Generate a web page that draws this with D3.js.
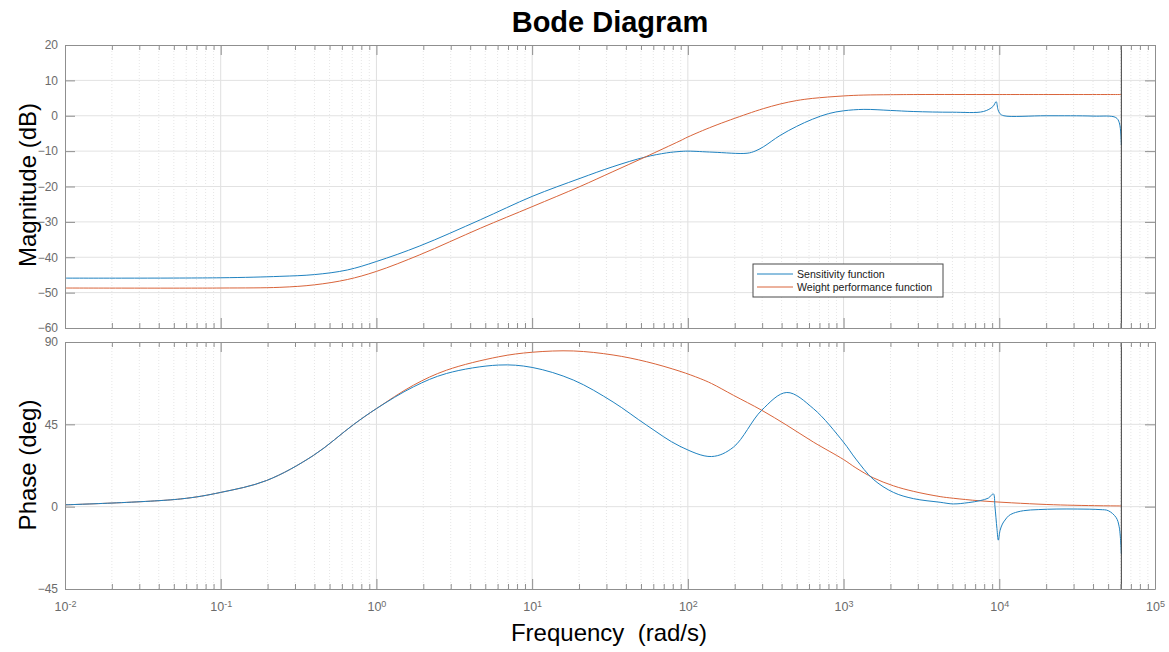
<!DOCTYPE html>
<html>
<head>
<meta charset="utf-8">
<script src="https://cdn.jsdelivr.net/npm/d3@7"></script>
<style>
  body { margin: 0; background: #fff; }
  svg { display: block; font-family: "Liberation Sans", Arial, Helvetica, sans-serif; }
</style>
</head>
<body>
<svg id="chart" width="1169" height="652"></svg>
<script>
// ---- Sensitivity function S(jw) ----
const sensMagFreq = [0.01, 0.1, 0.24, 0.4, 0.65, 1, 1.9, 4.65, 10, 20.3, 33, 53, 73, 89, 100, 145, 240, 270, 305, 390, 500, 630, 800, 1000, 1350, 2000, 2800, 5000, 7900, 9100, 9550, 9800, 10100, 10700, 20000, 40000, 56000, 59000, 60800];
const sensMagDb   = [-45.9, -45.8, -45.4, -44.9, -43.6, -41.2, -36.8, -29.4, -22.8, -17.7, -14.4, -11.7, -10.5, -10.1, -10.0, -10.3, -10.6, -10.0, -8.8, -5.6, -3.0, -1.0, 0.6, 1.4, 1.8, 1.5, 1.2, 1.0, 1.2, 2.6, 4.0, 1.8, 0.6, 0.0, 0.0, -0.1, -0.5, -2.0, -8.3];

const sensPhFreq = [0.01, 0.055, 0.1, 0.197, 0.394, 0.711, 1, 1.73, 2.82, 6.07, 10, 18.4, 33.1, 54.4, 89, 142, 196, 298, 432, 640, 998, 1200, 1549, 2090, 2805, 4169, 5070, 6310, 7530, 8511, 9160, 9380, 9660, 9860, 10116, 10470, 10890, 11480, 12300, 14290, 17780, 23440, 31620, 44360, 50120, 56230, 58880, 60800];
const sensPhDeg  = [1.0, 4.2, 7.8, 14.3, 28.0, 44.8, 53.6, 65.5, 72.8, 77.4, 76.1, 69.2, 57.2, 44.5, 33.0, 27.4, 32.5, 52.7, 62.4, 53.6, 35.3, 26.0, 15.0, 7.8, 4.4, 2.4, 1.5, 2.2, 3.3, 4.7, 7.0, 0.0, -12.0, -18.3, -13.0, -9.5, -7.3, -5.0, -3.6, -2.2, -1.6, -1.3, -1.3, -1.6, -2.2, -5.9, -11.0, -26.0];

// ---- Weight performance function Wp(jw) ----
const wpMagFreq = [0.01, 0.1, 0.24, 0.4, 0.65, 1, 1.9, 4.65, 10, 20.3, 33, 53, 89, 100, 145, 240, 305, 390, 500, 630, 1000, 1350, 2000, 3000, 10000, 60800];
const wpMagDb   = [-48.7, -48.7, -48.5, -47.8, -46.3, -44.0, -39.3, -31.8, -25.7, -20.0, -15.8, -11.7, -7.1, -6.0, -3.0, 0.5, 2.0, 3.3, 4.3, 4.9, 5.6, 5.85, 5.95, 6.0, 6.0, 6.0];

const wpPhFreq = [0.01, 0.055, 0.1, 0.197, 0.394, 0.711, 1, 1.73, 2.82, 6.07, 10, 18.4, 33.1, 54.4, 89, 120, 142, 196, 298, 432, 640, 998, 1200, 1549, 2090, 2805, 4169, 5070, 7530, 20000, 44360, 60800];
const wpPhDeg  = [1.0, 4.2, 7.8, 14.3, 28.0, 44.8, 53.6, 66.4, 74.6, 81.9, 84.4, 85.1, 82.9, 79.2, 74.0, 70.0, 67.3, 60.9, 52.7, 44.5, 35.3, 25.8, 21.2, 15.8, 11.4, 8.4, 5.5, 4.6, 3.2, 1.2, 0.5, 0.4];

// ---- Axes ticks and labels ----
const magTicks = [20, 10, 0, -10, -20, -30, -40, -50, -60];
const phaseTicks = [90, 45, 0, -45];
const decadeExps = [-2, -1, 0, 1, 2, 3, 4, 5];
const nyquistFreq = 60800;
const seriesNames = ["Sensitivity function", "Weight performance function"];
const seriesColors = ["#1f82c0", "#d9643a"];

const svg = d3.select("#chart");
const left = 65, right = 1155;
const magPanel = { top: 45, bottom: 328 };
const phPanel = { top: 342, bottom: 589 };

const x = d3.scaleLog().domain([1e-2, 1e5]).range([left, right]);
const yMag = d3.scaleLinear().domain([-60, 20]).range([magPanel.bottom, magPanel.top]);
const yPh = d3.scaleLinear().domain([-45, 90]).range([phPanel.bottom, phPanel.top]);

const majorFreqs = decadeExps.map(e => Math.pow(10, e));
const minorFreqs = [];
decadeExps.slice(0, -1).forEach(e => {
  for (let m = 2; m <= 9; m++) minorFreqs.push(m * Math.pow(10, e));
});

const axisColor = "#8f8f8f";
const labelColor = "#6b6b6b";

function drawGrid(panel, y, ticks, id) {
  const grid = svg.append("g");
  grid.selectAll(".vminor").data(minorFreqs).join("line")
    .attr("x1", d => x(d)).attr("x2", d => x(d))
    .attr("y1", panel.top).attr("y2", panel.bottom)
    .attr("stroke", "#e6e6e6").attr("stroke-width", 1)
    .attr("stroke-dasharray", "1,2");
  grid.selectAll(".vmajor").data(majorFreqs.slice(1, -1)).join("line")
    .attr("x1", d => x(d)).attr("x2", d => x(d))
    .attr("y1", panel.top).attr("y2", panel.bottom)
    .attr("stroke", "#dfdfdf").attr("stroke-width", 1);
  grid.selectAll(".hmajor").data(ticks.filter(t => t !== y.domain()[0] && t !== y.domain()[1])).join("line")
    .attr("x1", left).attr("x2", right)
    .attr("y1", d => y(d)).attr("y2", d => y(d))
    .attr("stroke", "#e2e2e2").attr("stroke-width", 1);

  svg.append("clipPath").attr("id", id).append("rect")
    .attr("x", left).attr("y", panel.top)
    .attr("width", right - left).attr("height", panel.bottom - panel.top);
}

function styleAxis(sel) {
  sel.selectAll(".domain").attr("stroke", axisColor);
  sel.selectAll(".tick line").attr("stroke", axisColor);
  sel.selectAll(".tick text").attr("fill", labelColor);
}

function drawAxes(panel, y, ticks, showX) {
  // bottom edge
  const gb = svg.append("g").attr("transform", `translate(0,${panel.bottom})`)
    .call(d3.axisBottom(x).tickValues(majorFreqs).tickSizeInner(-10).tickSizeOuter(0).tickPadding(13.5)
      .tickFormat(d => showX ? "10" : ""));
  svg.append("g").attr("transform", `translate(0,${panel.bottom})`)
    .call(d3.axisBottom(x).tickValues(minorFreqs).tickSizeInner(-5).tickSizeOuter(0).tickFormat(""))
    .call(s => s.select(".domain").remove()).call(styleAxis);
  gb.selectAll(".tick text").attr("font-size", 12.5);
  if (showX) {
    gb.selectAll(".tick text").each(function (d) {
      const t = d3.select(this);
      t.text(null);
      t.append("tspan").text("10");
      t.append("tspan").attr("dy", "-0.45em").attr("font-size", 9).text(String(Math.round(Math.log10(d))));
    });
  }
  styleAxis(gb);
  // top edge
  svg.append("g").attr("transform", `translate(0,${panel.top})`)
    .call(d3.axisTop(x).tickValues(majorFreqs).tickSizeInner(-10).tickSizeOuter(0).tickFormat(""))
    .call(styleAxis);
  svg.append("g").attr("transform", `translate(0,${panel.top})`)
    .call(d3.axisTop(x).tickValues(minorFreqs).tickSizeInner(-5).tickSizeOuter(0).tickFormat(""))
    .call(s => s.select(".domain").remove()).call(styleAxis);
  // left edge
  const gl = svg.append("g").attr("transform", `translate(${left},0)`)
    .call(d3.axisLeft(y).tickValues(ticks).tickSizeInner(-10).tickSizeOuter(0).tickPadding(7)
      .tickFormat(d3.format("d")));
  gl.selectAll(".tick text").attr("font-size", 12);
  styleAxis(gl);
  // right edge
  svg.append("g").attr("transform", `translate(${right},0)`)
    .call(d3.axisRight(y).tickValues(ticks).tickSizeInner(-10).tickSizeOuter(0).tickFormat(""))
    .call(styleAxis);
}

function drawCurve(freqs, vals, y, color, clipId) {
  const pts = freqs.map((f, i) => [f, vals[i]]);
  const line = d3.line().x(d => x(d[0])).y(d => y(d[1])).curve(d3.curveCatmullRom.alpha(0.5));
  svg.append("path").datum(pts)
    .attr("d", line)
    .attr("fill", "none")
    .attr("stroke", color)
    .attr("stroke-width", 1)
    .attr("clip-path", `url(#${clipId})`);
}

function drawNyquist(panel) {
  svg.append("line")
    .attr("x1", x(nyquistFreq)).attr("x2", x(nyquistFreq))
    .attr("y1", panel.top).attr("y2", panel.bottom)
    .attr("stroke", "#3c3c3c").attr("stroke-width", 1);
}

// Magnitude panel
drawGrid(magPanel, yMag, magTicks, "clipMag");
drawCurve(sensMagFreq, sensMagDb, yMag, seriesColors[0], "clipMag");
drawCurve(wpMagFreq, wpMagDb, yMag, seriesColors[1], "clipMag");
drawNyquist(magPanel);
drawAxes(magPanel, yMag, magTicks, false);

// Phase panel
drawGrid(phPanel, yPh, phaseTicks, "clipPh");
drawCurve(wpPhFreq, wpPhDeg, yPh, seriesColors[1], "clipPh");
drawCurve(sensPhFreq, sensPhDeg, yPh, seriesColors[0], "clipPh");
drawNyquist(phPanel);
drawAxes(phPanel, yPh, phaseTicks, true);

// Legend
const lg = svg.append("g").attr("transform", "translate(753,264)");
lg.append("rect").attr("width", 190).attr("height", 33)
  .attr("fill", "#fff").attr("stroke", "#4a4a4a").attr("stroke-width", 1);
seriesNames.forEach((name, i) => {
  const yy = 10 + i * 13;
  lg.append("line").attr("x1", 4).attr("x2", 40).attr("y1", yy).attr("y2", yy)
    .attr("stroke", seriesColors[i]).attr("stroke-width", 1);
  lg.append("text").attr("x", 44).attr("y", yy + 3.8)
    .attr("font-size", 10.6).attr("fill", "#1a1a1a").text(name);
});

// Titles
svg.append("text").attr("x", 610).attr("y", 31.5).attr("text-anchor", "middle")
  .attr("font-size", 29).attr("font-weight", "bold").attr("fill", "#000").text("Bode Diagram");
svg.append("text").attr("transform", "translate(36,185) rotate(-90)").attr("text-anchor", "middle")
  .attr("font-size", 24).attr("fill", "#000").text("Magnitude (dB)");
svg.append("text").attr("transform", "translate(36,465) rotate(-90)").attr("text-anchor", "middle")
  .attr("font-size", 24).attr("fill", "#000").text("Phase (deg)");
svg.append("text").attr("x", 609).attr("y", 641).attr("text-anchor", "middle")
  .attr("font-size", 24).attr("fill", "#000")
  .style("white-space", "pre").text("Frequency  (rad/s)");
</script>
</body>
</html>
